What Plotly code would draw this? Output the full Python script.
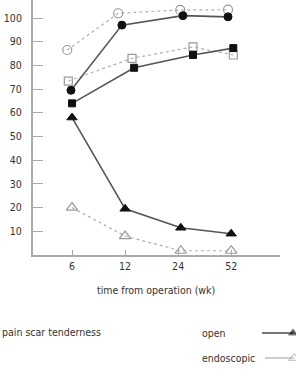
import plotly.graph_objects as go

weeks = ["6", "12", "24", "52"]
tick_pos = [0, 1, 2, 3]

# plotted x positions (category index, with the slight horizontal offsets seen in the original)
pain_x = [0.0, 1.0, 2.05, 3.0]
scar_open_x = [-0.02, 0.94, 2.09, 2.94]
scar_endo_x = [-0.09, 0.87, 2.04, 2.94]
tender_open_x = [0.0, 1.17, 2.28, 3.04]
tender_endo_x = [-0.07, 1.13, 2.28, 3.04]

open_pain = [58, 19.5, 11.5, 9]
endo_pain = [20, 8, 1.8, 1.8]
open_scar = [69.5, 97, 101, 100.5]
endo_scar = [86.5, 102, 103.4, 103.5]
open_tender = [64, 79, 84.4, 87.3]
endo_tender = [73.4, 83, 87.8, 84.4]

y_ticks = [10, 20, 30, 40, 50, 60, 70, 80, 90, 100]

FONT = "DejaVu Sans Condensed, Liberation Sans Narrow, sans-serif"
DARK = "#555555"
LIGHT = "#b0b0b0"

fig = go.Figure()

def add(x, y, sym, is_open, size):
    if is_open:
        fig.add_trace(go.Scatter(
            x=x, y=y, mode="lines+markers",
            line=dict(color=DARK, width=1.6),
            marker=dict(symbol=sym, size=size, color="#111111", line=dict(color="#111111", width=1)),
            showlegend=False, cliponaxis=False))
    else:
        fig.add_trace(go.Scatter(
            x=x, y=y, mode="lines+markers",
            line=dict(color=LIGHT, width=1.2, dash="dot"),
            marker=dict(symbol=sym + "-open", size=size + 1, color="#999999", line=dict(color="#999999", width=1.2)),
            showlegend=False, cliponaxis=False))

add(scar_endo_x, endo_scar, "circle", False, 8)
add(tender_endo_x, endo_tender, "square", False, 7)
add(pain_x, endo_pain, "triangle-up", False, 9)
add(scar_open_x, open_scar, "circle", True, 8)
add(tender_open_x, open_tender, "square", True, 7)
add(pain_x, open_pain, "triangle-up", True, 9)

# legend samples on a hidden pixel-coordinate axis pair
fig.add_trace(go.Scatter(x=[262, 293], y=[333, 333], xaxis="x2", yaxis="y2", mode="lines+markers",
                         line=dict(color=DARK, width=1.6),
                         marker=dict(symbol="triangle-up", size=[0, 8], color="#111111"),
                         showlegend=False, cliponaxis=False))
fig.add_trace(go.Scatter(x=[265, 294], y=[358, 358], xaxis="x2", yaxis="y2", mode="lines+markers",
                         line=dict(color=LIGHT, width=1.2),
                         marker=dict(symbol="triangle-up-open", size=[0, 9], color="#999999"),
                         showlegend=False, cliponaxis=False))

ann = [
    dict(text="pain scar tenderness", x=0, y=332, xanchor="left"),
    dict(text="open", x=200, y=333, xanchor="left"),
    dict(text="endoscopic", x=200, y=358, xanchor="left"),
    dict(text="time from operation (wk)", x=156, y=290, xanchor="center"),
]
annotations = [dict(xref="x2", yref="y2", showarrow=False, yanchor="middle",
                    font=dict(family=FONT, size=10.5, color="#333333"), **a) for a in ann]

fig.update_layout(
    width=296, height=380,
    margin=dict(l=0, r=0, t=0, b=0),
    paper_bgcolor="white", plot_bgcolor="white",
    font=dict(family=FONT, size=10.5, color="#333333"),
    xaxis=dict(domain=[33 / 296, 280 / 296], range=[-0.736, 3.92],
               tickvals=tick_pos, ticktext=weeks, ticks="inside", ticklen=5,
               tickcolor="#aaaaaa", showgrid=False, zeroline=False,
               showline=True, linecolor="#aaaaaa", linewidth=2, anchor="y"),
    yaxis=dict(domain=[125 / 380, 1], range=[0, 107.6], tickvals=y_ticks,
               ticks="inside", ticklen=10, tickcolor="#aaaaaa", showgrid=False,
               zeroline=False, showline=True, linecolor="#aaaaaa", linewidth=2,
               ticklabelstandoff=7, anchor="x"),
    xaxis2=dict(domain=[0, 1], range=[0, 296], visible=False, anchor="y2"),
    yaxis2=dict(domain=[0, 125 / 380], range=[380, 255], visible=False, anchor="x2"),
    annotations=annotations,
)

fig.write_html("out.html")
